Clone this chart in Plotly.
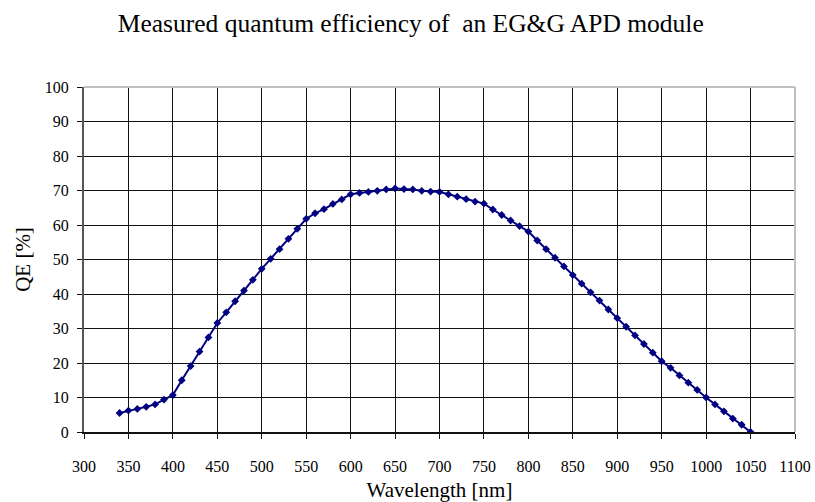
import plotly.graph_objects as go

# Measured QE of the EG&G APD module, sampled every 10 nm
wavelength_nm = list(range(340, 1051, 10))
qe_percent = [
    5.5, 6.2, 6.7, 7.3, 8.0, 9.4, 10.7, 15.0, 19.1, 23.3,
    27.4, 31.6, 34.7, 37.9, 41.0, 44.1, 47.3, 50.2, 53.0, 56.0,
    58.9, 61.8, 63.4, 64.6, 66.1, 67.4, 68.9, 69.3, 69.6, 69.9,
    70.3, 70.6, 70.4, 70.3, 69.9, 69.7, 69.6, 68.9, 68.2, 67.5,
    66.8, 66.2, 64.5, 62.9, 61.3, 59.7, 58.1, 55.5, 53.0, 50.5,
    48.0, 45.5, 43.0, 40.5, 38.1, 35.5, 33.0, 30.5, 28.0, 25.5,
    23.0, 20.5, 18.6, 16.4, 14.3, 12.2, 10.0, 8.0, 6.0, 3.9,
    2.1, 0.0,
]

x_ticks = list(range(300, 1101, 50))
y_ticks = list(range(0, 101, 10))

FONT = "'Liberation Serif', serif"
NAVY = "#000080"

fig = go.Figure()
fig.add_trace(go.Scatter(
    x=wavelength_nm,
    y=qe_percent,
    mode="lines+markers",
    line=dict(color=NAVY, width=2),
    marker=dict(symbol="diamond", size=6, color=NAVY),
    showlegend=False,
    hoverinfo="x+y",
))

# light grey frame on the top and right of the plot area
fig.add_shape(type="line", xref="x domain", yref="y domain",
              x0=0, x1=1, y0=1, y1=1, line=dict(color="#c0c0c0", width=2))
fig.add_shape(type="line", xref="x domain", yref="y domain",
              x0=1, x1=1, y0=0, y1=1, line=dict(color="#c0c0c0", width=2))

fig.update_layout(
    width=815, height=502,
    margin=dict(l=84, r=20, t=87, b=70),
    paper_bgcolor="white",
    plot_bgcolor="white",
    font=dict(family=FONT, size=16, color="black"),
    title=dict(
        text="Measured quantum efficiency of &nbsp;an EG&amp;G APD module",
        x=0.504, xanchor="center", y=0.955, yanchor="middle",
        font=dict(family=FONT, size=25.5, color="black"),
    ),
    xaxis=dict(
        range=[300, 1100], automargin=False,
        tickmode="array", tickvals=x_ticks, ticktext=[str(v) for v in x_ticks],
        showgrid=True, gridcolor="#111111", gridwidth=1,
        showline=True, linecolor="#111111", linewidth=1.5,
        ticks="outside", ticklen=5, tickcolor="#111111",
        ticklabelstandoff=14,
        zeroline=False,
        title=dict(text="Wavelength [nm]", font=dict(family=FONT, size=21), standoff=15),
    ),
    yaxis=dict(
        range=[0, 100], automargin=False,
        tickmode="array", tickvals=y_ticks, ticktext=[str(v) for v in y_ticks],
        showgrid=True, gridcolor="#111111", gridwidth=1,
        showline=True, linecolor="#555555", linewidth=2,
        ticks="outside", ticklen=5, tickcolor="#111111",
        ticklabelstandoff=5,
        zeroline=False,
        title=dict(text="QE [%]", font=dict(family=FONT, size=21), standoff=8),
    ),
)

fig.write_html("out.html")
